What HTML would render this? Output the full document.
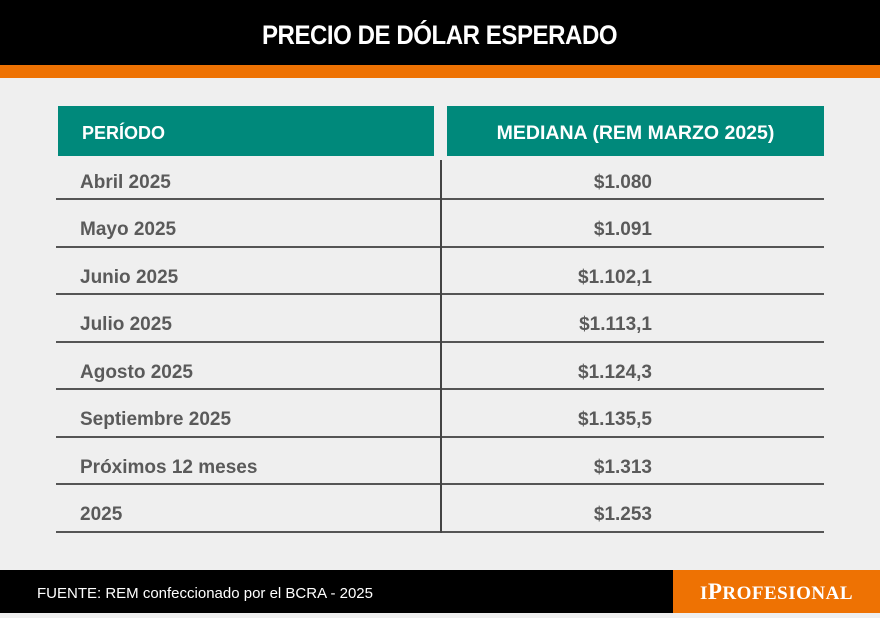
<!DOCTYPE html>
<html><head><meta charset="utf-8"><style>
*{margin:0;padding:0;box-sizing:border-box}
body{width:880px;height:613px;background:#efefef;position:relative;overflow:hidden;font-family:"Liberation Sans",sans-serif}
.abs{position:absolute}
#title{left:0;top:0;width:880px;height:65px;background:#000;color:#fff;text-align:center;line-height:70px;font-weight:bold;font-size:27px}
#title span{display:inline-block;transform:scaleX(0.89);letter-spacing:-0.5px}
#bar{left:0;top:65px;width:880px;height:13px;background:#ee7203}
.hd{top:106px;height:50px;background:#00897b;color:#fff;font-weight:bold;font-size:18px;line-height:54px}
.row{left:56px;width:768px;height:47.5px;border-bottom:2px solid #555;font-weight:bold;font-size:19px;color:#5a5a5a}
.row .p{position:absolute;left:24px;top:19px}
.row .v{position:absolute;right:172px;top:19px}
#vl{left:440px;top:160px;width:2px;height:373px;background:#444}
#foot{left:0;top:570px;width:880px;height:43px;background:#000;color:#fff;font-size:15px;line-height:48px;padding-left:37px}
#logo{left:673px;top:570px;width:207px;height:43px;background:#ee7203;color:#fff;font-family:"Liberation Serif",serif;font-weight:bold;font-size:19px;text-align:center;line-height:43px;letter-spacing:0.5px}
</style></head><body>
<div id="title" class="abs"><span>PRECIO DE DÓLAR ESPERADO</span></div>
<div id="bar" class="abs"></div>
<div class="abs hd" style="left:58px;width:376px;padding-left:24px">PERÍODO</div>
<div class="abs hd" style="left:447px;width:377px;text-align:center;font-size:19.5px">MEDIANA (REM MARZO 2025)</div>
<div id="rows"></div>
<div id="vl" class="abs"></div>
<div id="foot" class="abs">FUENTE: REM confeccionado por el BCRA - 2025</div>
<div id="logo" class="abs">I<span style="font-size:23px">P</span>ROFESIONAL</div>
<script>
const periods=["Abril 2025","Mayo 2025","Junio 2025","Julio 2025","Agosto 2025","Septiembre 2025","Próximos 12 meses","2025"];
const values=["$1.080","$1.091","$1.102,1","$1.113,1","$1.124,3","$1.135,5","$1.313","$1.253"];
const c=document.getElementById('rows');
periods.forEach((p,i)=>{
  const r=document.createElement('div');
  
  
  r.className='abs row';
  r.style.top=(152.5+i*47.5)+'px';
  const a=document.createElement('div');a.className='p';a.textContent=p;
  
  
  const b=document.createElement('div');b.className='v';b.textContent=values[i];
  
  
  r.appendChild(a);r.appendChild(b);c.appendChild(r);
});
</script>
</body></html>
